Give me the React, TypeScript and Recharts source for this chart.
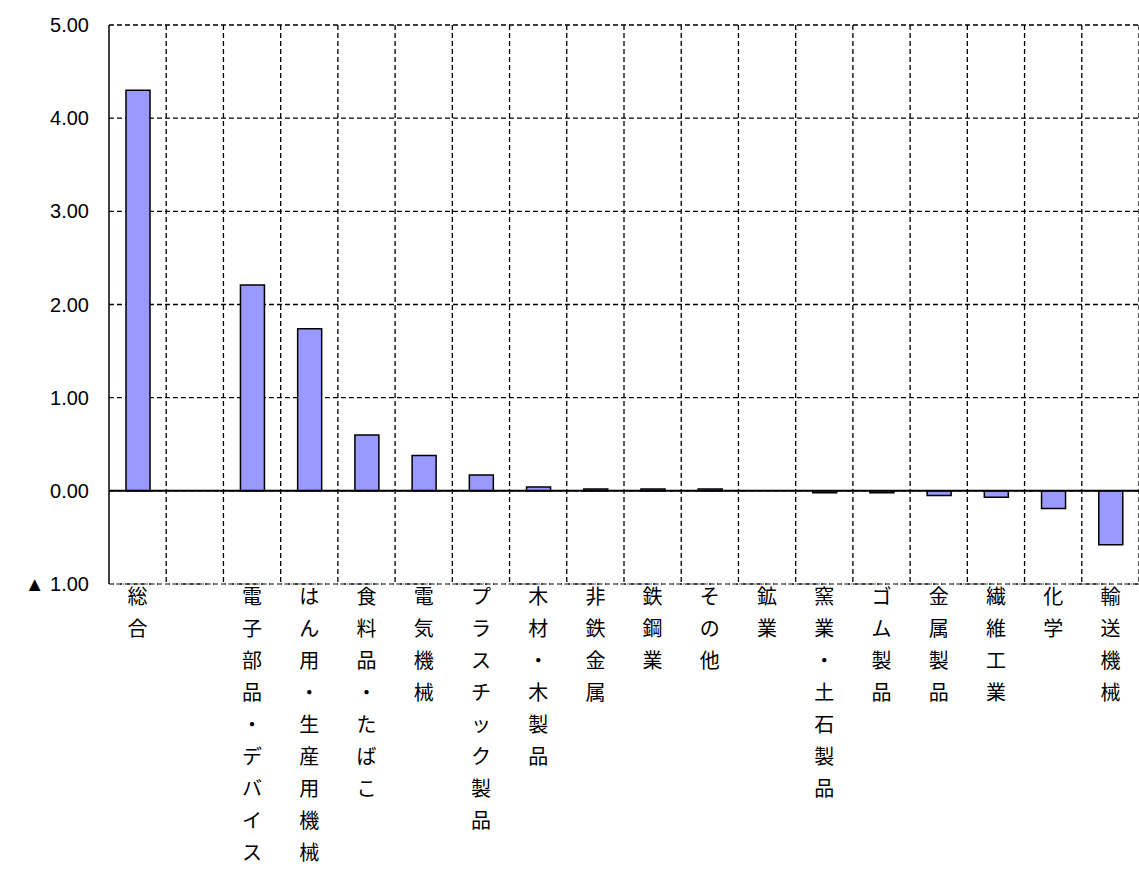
import React from "react";
import {
  Bar,
  BarChart,
  CartesianGrid,
  ReferenceLine,
  XAxis,
  YAxis,
} from "recharts";

const CATEGORIES = [
  "総合", "", "電子部品・デバイス", "はん用・生産用機械", "食料品・たばこ",
  "電気機械", "プラスチック製品", "木材・木製品", "非鉄金属", "鉄鋼業",
  "その他", "鉱業", "窯業・土石製品", "ゴム製品", "金属製品", "繊維工業",
  "化学", "輸送機械",
];
const VALUES = [
  4.3, null, 2.21, 1.74, 0.6, 0.38, 0.17, 0.04, 0.02, 0.02, 0.02, 0,
  -0.02, -0.02, -0.05, -0.07, -0.19, -0.58,
];
const Y_TICKS = [-1, 0, 1, 2, 3, 4, 5];

const data = CATEGORIES.map((name, i) => ({ name, value: VALUES[i] }));

const VerticalTick = ({ x, y, payload }: any) => {
  const chars = Array.from(String(payload.value));
  return (
    <g>
      {chars.map((c, i) => (
        <text
          key={i}
          x={x}
          y={y + 12 + i * 32}
          textAnchor="middle"
          fontSize={20}
          fontFamily="'Noto Sans CJK JP', sans-serif"
          fill="#000"
        >
          {c}
        </text>
      ))}
    </g>
  );
};

const fmtY = (v: number) => (v < 0 ? `▲ ${Math.abs(v).toFixed(2)}` : v.toFixed(2));

// vertical grid lines sit between categories
const verticalLines = ({ offset }: any) => {
  const step = offset.width / CATEGORIES.length;
  return CATEGORIES.map((_, i) => offset.left + step * (i + 1));
};

export default function App() {
  return (
    <div style={{ position: "absolute", left: 0, top: 0, background: "#fff" }}>
      <BarChart
        width={1139}
        height={872}
        data={data}
        margin={{ top: 25, right: 0, bottom: 0, left: 0 }}
        barSize={24}
      >
        <CartesianGrid
          stroke="#000"
          strokeWidth={1.3}
          strokeDasharray="5 3"
          verticalCoordinatesGenerator={verticalLines}
        />
        <XAxis
          dataKey="name"
          interval={0}
          tick={<VerticalTick />}
          tickLine={false}
          axisLine={{ stroke: "#999", strokeDasharray: "4 3", strokeWidth: 1.5 }}
          height={288}
        />
        <YAxis
          width={109}
          domain={[-1, 5]}
          ticks={Y_TICKS}
          tickFormatter={fmtY}
          axisLine={{ stroke: "#000", strokeWidth: 1.5 }}
          tickLine={false}
          tick={{ fill: "#000", fontSize: 20, fontFamily: "'Liberation Sans', Arial, sans-serif", dx: -12 }}
        />
        <ReferenceLine y={0} stroke="#000" strokeWidth={2} />
        <Bar dataKey="value" fill="#9999FF" stroke="#000" strokeWidth={1.5} isAnimationActive={false} />
      </BarChart>
    </div>
  );
}
